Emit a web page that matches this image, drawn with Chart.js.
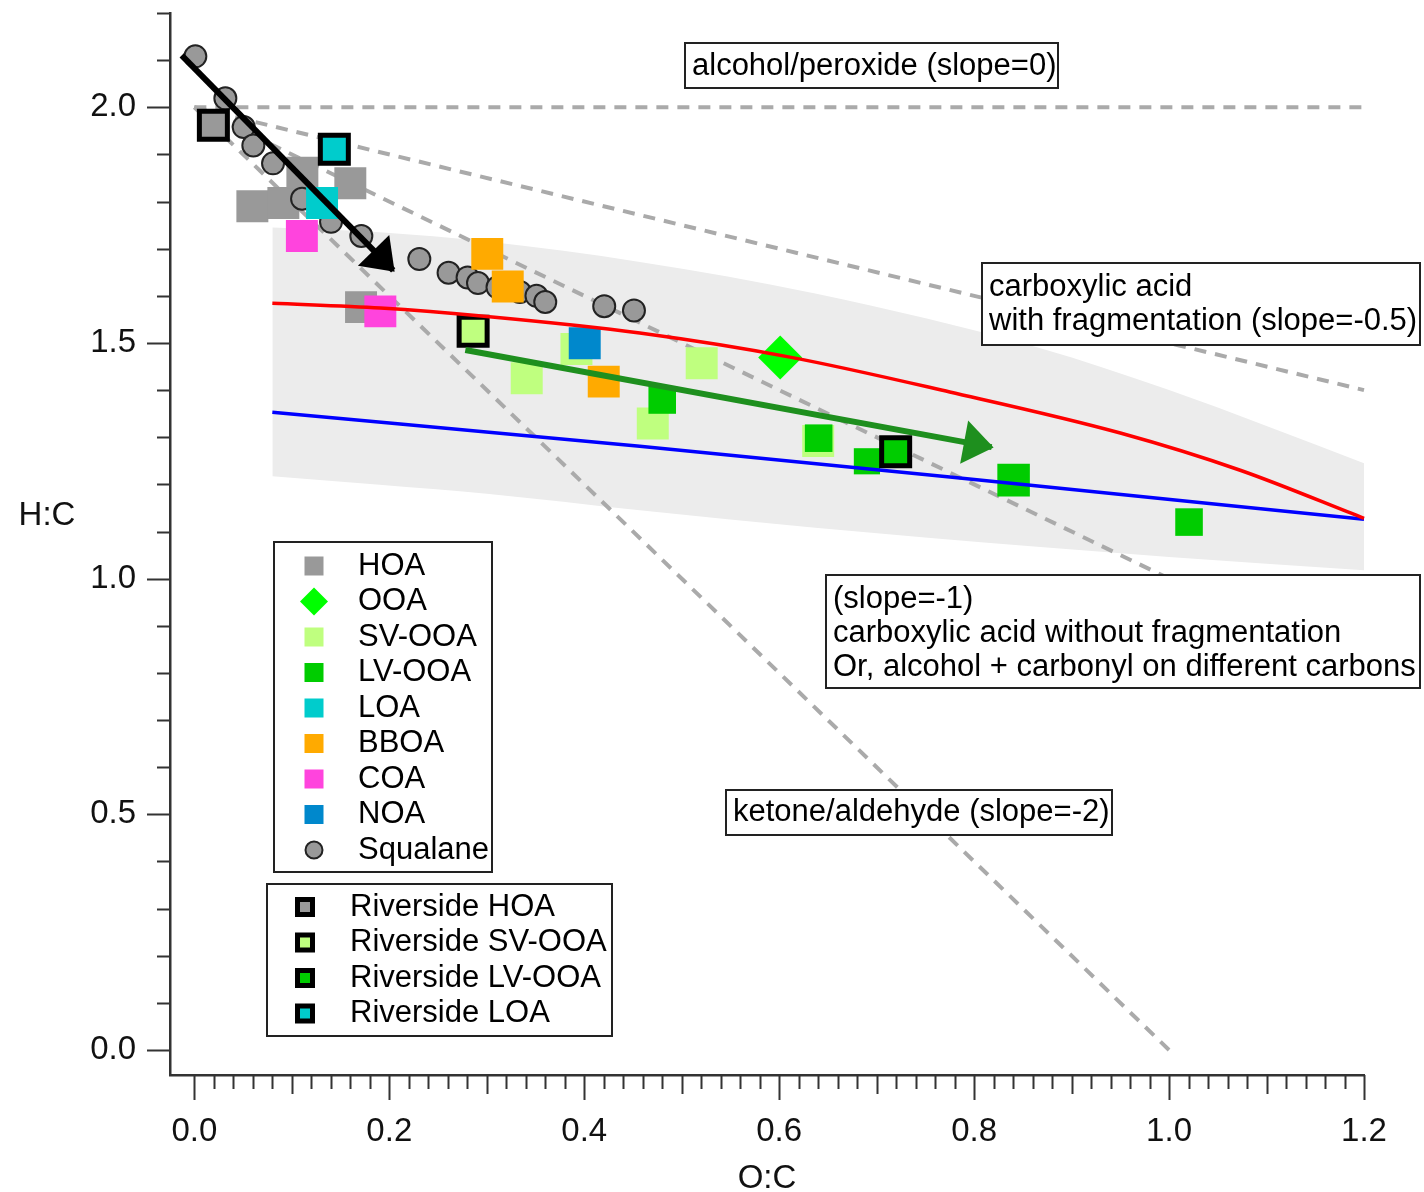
<!DOCTYPE html>
<html>
<head>
<meta charset="utf-8">
<title>Van Krevelen diagram</title>
<script src="https://cdn.jsdelivr.net/npm/chart.js@4.4.1/dist/chart.umd.min.js"></script>
<style>
  html, body { margin: 0; padding: 0; background: #fff; }
  #wrap { width: 1424px; height: 1192px; }
</style>
</head>
<body>
<div id="wrap"><canvas id="vk" width="1424" height="1192"></canvas></div>
<script>
// ----- DATA (O:C, H:C) -----
const xTickLabels = ['0.0', '0.2', '0.4', '0.6', '0.8', '1.0', '1.2'];
const yTickLabels = ['0.0', '0.5', '1.0', '1.5', '2.0'];

const hoa = [[0.0595, 1.790], [0.0913, 1.797], [0.1108, 1.861], [0.160, 1.839], [0.171, 1.576]];
const ooa = [[0.601, 1.469]];
const svOoa = [[0.392, 1.487], [0.341, 1.425], [0.5205, 1.457], [0.4703, 1.329], [0.640, 1.292]];
const lvOoa = [[0.480, 1.379], [0.6405, 1.298], [0.690, 1.249], [0.8405, 1.209], [1.0205, 1.120]];
const loa = [[0.131, 1.797]];
const bboa = [[0.3005, 1.689], [0.3215, 1.620], [0.420, 1.418]];
const coa = [[0.1103, 1.727], [0.1908, 1.567]];
const noa = [[0.4005, 1.4995]];
const squalane = [
  [0.001, 2.108], [0.0318, 2.019], [0.0506, 1.958], [0.0605, 1.919], [0.0807, 1.881],
  [0.1105, 1.806], [0.1402, 1.757], [0.1713, 1.727], [0.2308, 1.678], [0.2608, 1.649],
  [0.2803, 1.639], [0.291, 1.627], [0.311, 1.618], [0.334, 1.608], [0.351, 1.600],
  [0.360, 1.587], [0.4205, 1.578], [0.451, 1.569]
];
const riversideHoa = [[0.0195, 1.962]];
const riversideSvOoa = [[0.286, 1.525]];
const riversideLvOoa = [[0.7195, 1.269]];
const riversideLoa = [[0.1436, 1.911]];

// ambient OOA range (grey band) and fitted curves
const bandX = [0.08, 0.19, 0.30, 0.457, 0.637, 0.868, 1.0, 1.2];
const bandTop = [1.745, 1.735, 1.715, 1.672, 1.605, 1.489, 1.40, 1.245];
const bandBottom = [1.217, 1.199, 1.180, 1.145, 1.108, 1.067, 1.046, 1.018];
const redX = [0.08, 0.191, 0.3, 0.457, 0.611, 0.775, 0.95, 1.073, 1.2];
const redY = [1.584, 1.574, 1.556, 1.521, 1.470, 1.396, 1.309, 1.230, 1.128];
const blueX = [0.08, 0.457, 0.868, 1.2];
const blueY = [1.353, 1.281, 1.196, 1.126];

// functional group guide lines
const guideSlope0 = [[0, 2], [1.2, 2]];
const guideSlopeHalf = [[0, 2], [1.2, 1.4]];
const guideSlope1 = [[0, 2], [1, 1]];
const guideSlope2 = [[0, 2], [1, 0]];

// arrows
const squalaneArrow = [[-0.013, 2.110], [0.204, 1.654]];
const riversideArrow = [[0.278, 1.485], [0.818, 1.279]];

// ----- HELPERS -----
const FONT = '"Liberation Sans", Arial, sans-serif';
const pts = (arr) => arr.map(p => ({ x: p[0], y: p[1] }));
const zip = (xs, ys) => xs.map((x, i) => ({ x: x, y: ys[i] }));
const xTickValues = Array.from({ length: 61 }, (_, k) => k / 50);
const yTickValues = Array.from({ length: 23 }, (_, k) => k / 10);
const near = (a, b) => Math.abs(a - b) < 1e-6;

const markerSeries = [
  { label: 'HOA', data: hoa, color: '#999999', style: 'rect', r: 22.6, order: 60 },
  { label: 'OOA', data: ooa, color: '#00ff00', style: 'rectRot', r: 22, order: 52 },
  { label: 'SV-OOA', data: svOoa, color: '#bfff7f', style: 'rect', r: 22.6, order: 57 },
  { label: 'LV-OOA', data: lvOoa, color: '#00cc00', style: 'rect', r: [19.5, 19.5, 18.5, 23, 19.5], order: 54 },
  { label: 'LOA', data: loa, color: '#00cccc', style: 'rect', r: 22.6, order: 58 },
  { label: 'BBOA', data: bboa, color: '#ffaa00', style: 'rect', r: 22.6, order: 56 },
  { label: 'COA', data: coa, color: '#ff44dd', style: 'rect', r: 22.6, order: 55 },
  { label: 'NOA', data: noa, color: '#0088cc', style: 'rect', r: 22.6, order: 53 },
  { label: 'Squalane', data: squalane, color: '#999999', style: 'circle', r: 11, order: 59 }
];
const riversideSeries = [
  { label: 'Riverside HOA', data: riversideHoa, color: '#999999' },
  { label: 'Riverside SV-OOA', data: riversideSvOoa, color: '#bfff7f' },
  { label: 'Riverside LV-OOA', data: riversideLvOoa, color: '#00cc00' },
  { label: 'Riverside LOA', data: riversideLoa, color: '#00cccc' }
];

function lineSet(data, color, width, order, extra) {
  return Object.assign({
    type: 'line', data: data, borderColor: color, borderWidth: width,
    pointRadius: 0, pointHoverRadius: 0, fill: false, tension: 0, order: order, clip: false
  }, extra || {});
}

const datasets = [];
// grey band: lower edge then upper edge filled down to it
datasets.push(lineSet(zip(bandX, bandBottom), 'rgba(0,0,0,0)', 0, 101, { cubicInterpolationMode: 'monotone' }));
datasets.push(lineSet(zip(bandX, bandTop), 'rgba(0,0,0,0)', 0, 100,
  { fill: '-1', backgroundColor: '#ececec', cubicInterpolationMode: 'monotone' }));
// dashed guides
[guideSlope0, guideSlopeHalf, guideSlope1, guideSlope2].forEach(g => {
  datasets.push(lineSet(pts(g), '#aaaaaa', 4, 90, { borderDash: [12, 9], borderCapStyle: 'butt' }));
});
// markers
markerSeries.forEach(s => {
  datasets.push({
    type: 'scatter', label: s.label, data: pts(s.data), order: s.order, clip: false,
    pointStyle: s.style, pointRadius: s.r, pointHoverRadius: s.r,
    backgroundColor: s.color,
    borderColor: s.style === 'circle' ? '#222222' : s.color,
    borderWidth: s.style === 'circle' ? 2 : 0, pointHoverBorderWidth: s.style === 'circle' ? 2 : 0
  });
});
riversideSeries.forEach(s => {
  datasets.push({
    type: 'scatter', label: s.label, data: pts(s.data), order: 50, clip: false,
    pointStyle: 'rect', pointRadius: 19.8, pointHoverRadius: 19.8,
    backgroundColor: s.color, borderColor: '#000000', borderWidth: 5, pointHoverBorderWidth: 5
  });
});
// fitted curves
datasets.push(lineSet(zip(redX, redY), '#ff0000', 3.5, 20, { cubicInterpolationMode: 'monotone' }));
datasets.push(lineSet(zip(blueX, blueY), '#0000ff', 3.5, 21, { cubicInterpolationMode: 'monotone' }));
// arrows
const arrowStart = datasets.length;
datasets.push(lineSet(pts(squalaneArrow), '#000000', 6, 10, { arrow: '#000000' }));
datasets.push(lineSet(pts(riversideArrow), '#1e8f1e', 6, 11, { arrow: '#1e8f1e' }));

// ----- PLUGIN: ticks, arrowheads, labels, legends -----
const annotations = [
  { box: [685, 43, 1058, 88], lines: ['alcohol/peroxide (slope=0)'], y0: 66 },
  { box: [982, 263, 1420, 345], lines: ['carboxylic acid', 'with fragmentation (slope=-0.5)'], y0: 287 },
  { box: [826, 575, 1420, 688], lines: ['(slope=-1)', 'carboxylic acid without fragmentation', 'Or, alcohol + carbonyl on different carbons'], y0: 599 },
  { box: [726, 790, 1112, 835], lines: ['ketone/aldehyde (slope=-2)'], y0: 812 }
];

function drawBox(ctx, b) {
  ctx.fillStyle = '#ffffff';
  ctx.fillRect(b[0], b[1], b[2] - b[0], b[3] - b[1]);
  ctx.strokeStyle = '#222222';
  ctx.lineWidth = 2;
  ctx.strokeRect(b[0], b[1], b[2] - b[0], b[3] - b[1]);
}

function legendSymbol(ctx, s, x, y) {
  ctx.fillStyle = s.color;
  if (s.style === 'rectRot') {
    ctx.beginPath();
    ctx.moveTo(x - 14, y); ctx.lineTo(x, y - 14); ctx.lineTo(x + 14, y); ctx.lineTo(x, y + 14);
    ctx.closePath(); ctx.fill();
  } else if (s.style === 'circle') {
    ctx.beginPath(); ctx.arc(x, y, 8.5, 0, Math.PI * 2);
    ctx.fill(); ctx.lineWidth = 2; ctx.strokeStyle = '#222222'; ctx.stroke();
  } else {
    ctx.fillRect(x - 9.5, y - 9.5, 19, 19);
  }
}

const decor = {
  id: 'decor',
  afterDatasetsDraw(chart) {
    const ctx = chart.ctx;
    for (let i = arrowStart; i < chart.data.datasets.length; i++) {
      const d = chart.getDatasetMeta(i).data;
      const from = d[0], to = d[1];
      const dx = to.x - from.x, dy = to.y - from.y, len = Math.hypot(dx, dy);
      const ux = dx / len, uy = dy / len;
      const bx = to.x - ux * 28, by = to.y - uy * 28;
      ctx.save();
      ctx.beginPath();
      ctx.moveTo(to.x + ux * 2, to.y + uy * 2);
      ctx.lineTo(bx - uy * 22, by + ux * 22);
      ctx.lineTo(bx + uy * 22, by - ux * 22);
      ctx.closePath();
      ctx.fillStyle = chart.data.datasets[i].arrow;
      ctx.fill();
      ctx.restore();
    }
  },
  afterDraw(chart) {
    const ctx = chart.ctx;
    const xs = chart.scales.x, ys = chart.scales.y;
    const area = chart.chartArea;
    ctx.save();
    // tick marks
    ctx.strokeStyle = '#333333';
    ctx.lineWidth = 2;
    ctx.beginPath();
    ys.ticks.forEach(t => {
      const py = Math.round(ys.getPixelForValue(t.value)) + 0.5;
      const l = yTickLabels.some(s => near(parseFloat(s), t.value)) ? 23 : 13;
      ctx.moveTo(area.left - l, py); ctx.lineTo(area.left, py);
    });
    xs.ticks.forEach(t => {
      const px = Math.round(xs.getPixelForValue(t.value)) + 0.5;
      const k = Math.round(t.value * 50);
      const l = k % 10 === 0 ? 25 : (k % 5 === 0 ? 19 : 14);
      ctx.moveTo(px, area.bottom); ctx.lineTo(px, area.bottom + l);
    });
    ctx.stroke();

    // y axis title, horizontal
    ctx.fillStyle = '#111111';
    ctx.font = '33px ' + FONT;
    ctx.textAlign = 'center';
    ctx.textBaseline = 'middle';
    ctx.fillText('H:C', 47, 516);

    // annotation boxes
    ctx.font = '31px ' + FONT;
    ctx.textAlign = 'left';
    annotations.forEach(a => {
      drawBox(ctx, a.box);
      ctx.fillStyle = '#000000';
      a.lines.forEach((t, i) => ctx.fillText(t, a.box[0] + 7, a.y0 + i * 34));
    });

    // legend 1
    drawBox(ctx, [274, 542, 492, 872]);
    markerSeries.forEach((s, i) => {
      const y = 566 + i * 35.5;
      legendSymbol(ctx, s, 314, y);
      ctx.fillStyle = '#000000';
      ctx.fillText(s.label, 358, y);
    });
    // legend 2
    drawBox(ctx, [267, 884, 612, 1036]);
    riversideSeries.forEach((s, i) => {
      const y = 907 + i * 35.5;
      ctx.fillStyle = '#000000';
      ctx.fillRect(295, y - 10, 20, 20);
      ctx.fillStyle = s.color;
      ctx.fillRect(300, y - 5, 10, 10);
      ctx.fillStyle = '#000000';
      ctx.fillText(s.label, 350, y);
    });
    ctx.restore();
  }
};

new Chart(document.getElementById('vk'), {
  type: 'scatter',
  data: { datasets: datasets },
  options: {
    responsive: false,
    animation: false,
    events: [],
    layout: { autoPadding: false, padding: { left: 0, right: 60, top: 13, bottom: 0 } },
    plugins: { legend: { display: false }, tooltip: { enabled: false } },
    scales: {
      x: {
        type: 'linear', min: -0.025, max: 1.2,
        afterFit: (s) => { s.height = 117; s.paddingLeft = 0; s.paddingRight = 0; },
        afterBuildTicks: (s) => { s.ticks = xTickValues.map(v => ({ value: v })); },
        grid: { display: false, drawTicks: false },
        border: { display: true, color: '#333333', width: 2.5 },
        ticks: {
          autoSkip: false, maxRotation: 0, minRotation: 0, padding: 37,
          color: '#111111', font: { family: FONT, size: 33 },
          callback: (v) => xTickLabels.find(s => near(parseFloat(s), v)) || ''
        },
        title: {
          display: true, text: 'O:C', color: '#111111',
          font: { family: FONT, size: 33, lineHeight: 0.8 }, padding: { top: 0, bottom: 0 }
        }
      },
      y: {
        type: 'linear', min: -0.053, max: 2.2,
        afterFit: (s) => { s.width = 170; s.paddingTop = 0; s.paddingBottom = 0; },
        afterBuildTicks: (s) => { s.ticks = yTickValues.map(v => ({ value: v })); },
        grid: { display: false, drawTicks: false },
        border: { display: true, color: '#333333', width: 2.5 },
        ticks: {
          autoSkip: false, padding: 34,
          color: '#111111', font: { family: FONT, size: 33 },
          callback: (v) => yTickLabels.find(s => near(parseFloat(s), v)) || ''
        }
      }
    }
  },
  plugins: [decor]
});
</script>
</body>
</html>
